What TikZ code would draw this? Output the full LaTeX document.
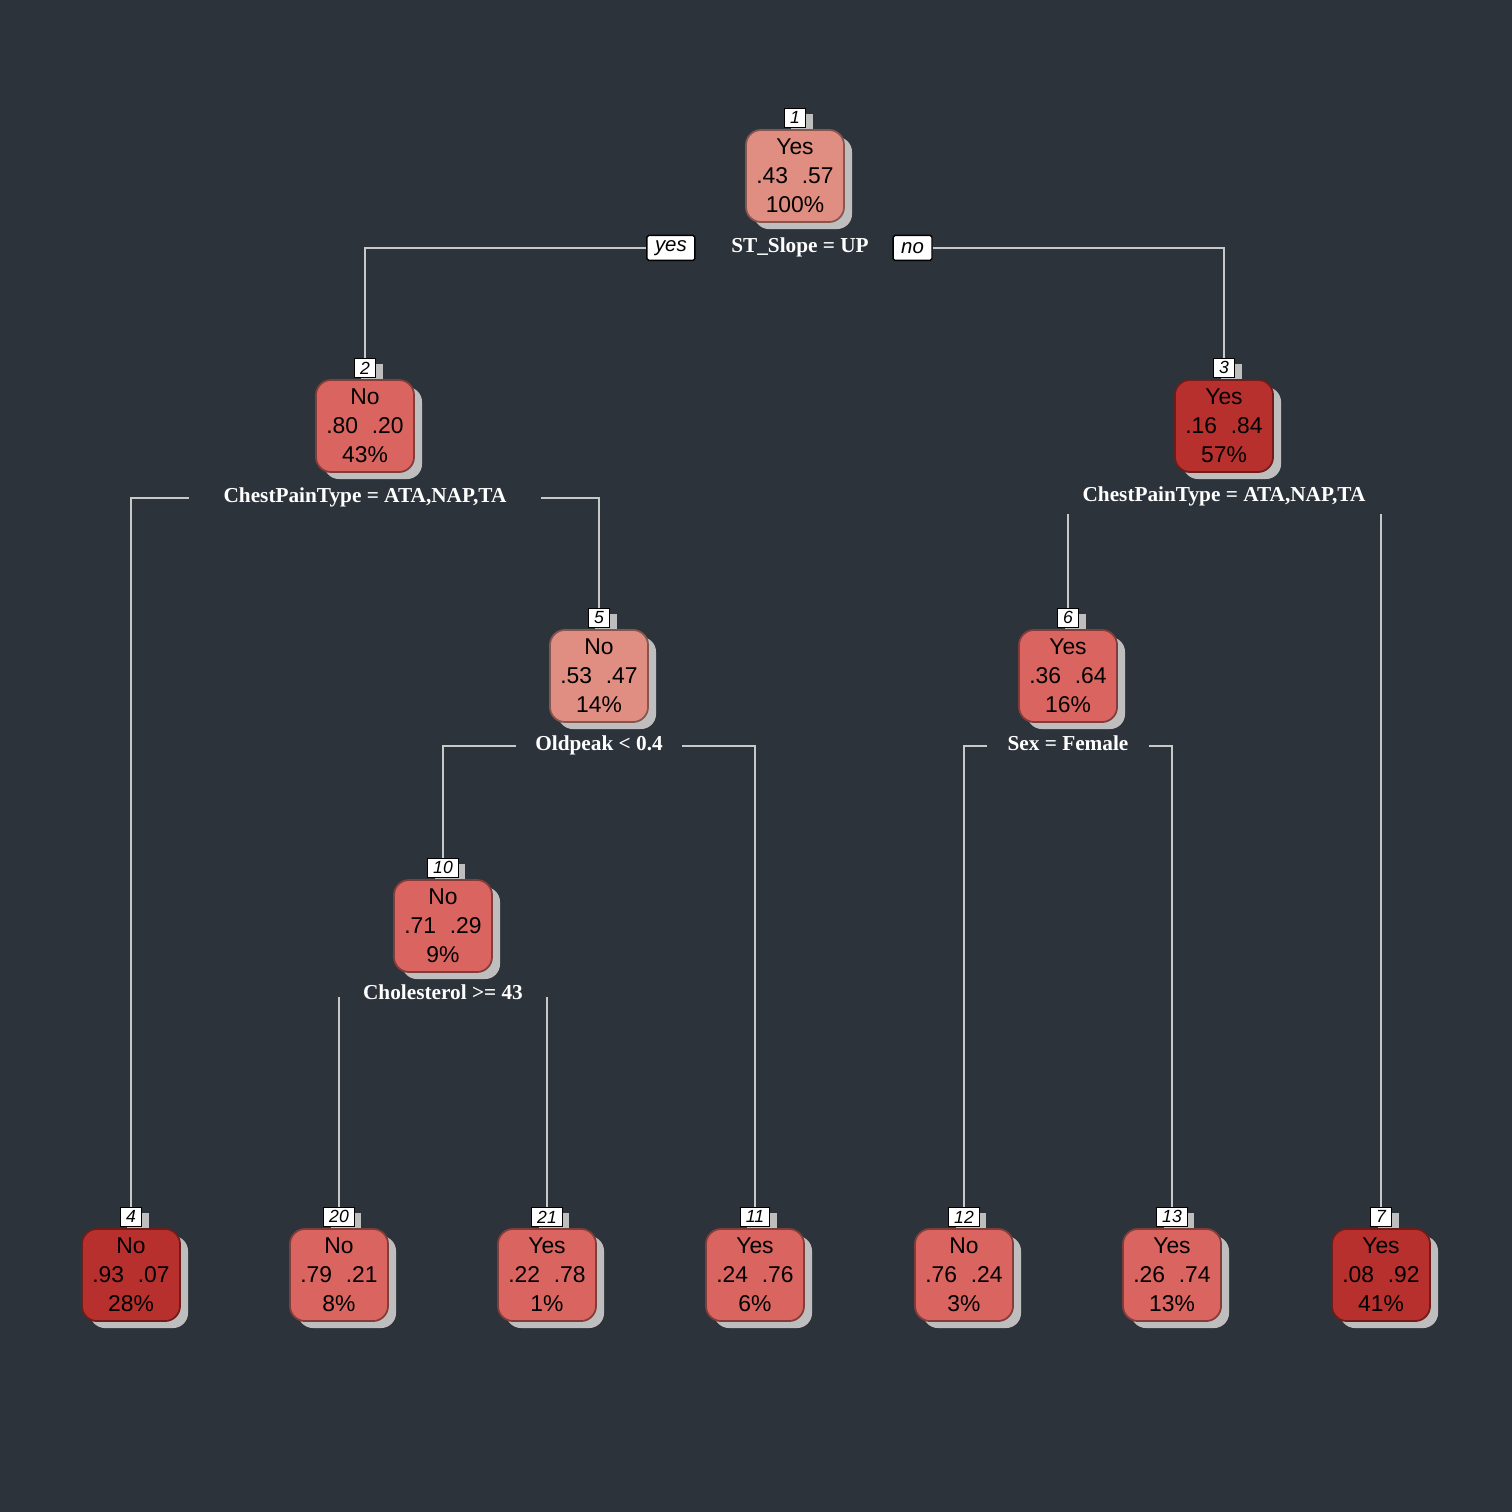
\documentclass[tikz,border=0pt]{standalone}
\usepackage{fontspec}
\setmainfont{Liberation Serif}
\setsansfont{Liberation Sans}
\usetikzlibrary{positioning, shadows, backgrounds}
\definecolor{treeBg}{RGB}{45,51,59}
\definecolor{treeLight}{RGB}{224,142,130}
\definecolor{treeMid}{RGB}{217,100,96}
\definecolor{treeDark}{RGB}{183,48,45}
\definecolor{treeEdge}{RGB}{200,200,200}
\definecolor{treeShadow}{RGB}{190,190,190}

\begin{document}
\begin{tikzpicture}[
    x=0.01cm, y=-0.01cm,
    box/.style={rectangle, rounded corners=0.15cm, fill=#1, draw=#1!60!black, line width=0.5pt, minimum width=0.98cm, minimum height=0.92cm, inner sep=0pt, align=center, text=black, font=\sffamily\fontsize{6.5}{8.25}\selectfont, drop shadow={shadow xshift=0.08cm, shadow yshift=-0.07cm, fill=treeShadow, opacity=1}},
    nlabel/.style={rectangle, draw=black, fill=white, line width=0.4pt, minimum height=0.19cm, inner xsep=1.6pt, inner ysep=0pt, font=\sffamily\itshape\fontsize{5}{5.5}\selectfont, drop shadow={shadow xshift=0.07cm, shadow yshift=-0.06cm, fill=treeShadow, opacity=1}},
    rule/.style={text=white, inner sep=0pt, text height=4pt, text depth=1.3pt, font=\bfseries\fontsize{6.05}{7}\selectfont},
    answer/.style={rectangle, rounded corners=0.5pt, draw=black, fill=white, line width=0.4pt, minimum height=0.25cm, inner xsep=2.3pt, inner ysep=0pt, font=\sffamily\itshape\fontsize{5.8}{6}\selectfont},
    branch/.style={treeEdge, line width=0.6pt},
    dotline/.style={black!80, line width=0.4pt, dotted}
]
    % inner nodes
    \node[box=treeLight] (n1) at (795,176) {Yes\\.43\hspace{0.6em}.57\\100\%};
    \node[box=treeMid] (n2) at (365,426) {No\\.80\hspace{0.6em}.20\\43\%};
    \node[box=treeDark] (n3) at (1224,426) {Yes\\.16\hspace{0.6em}.84\\57\%};
    \node[box=treeLight] (n5) at (599,676) {No\\.53\hspace{0.6em}.47\\14\%};
    \node[box=treeMid] (n6) at (1068,676) {Yes\\.36\hspace{0.6em}.64\\16\%};
    \node[box=treeMid] (n10) at (443,926) {No\\.71\hspace{0.6em}.29\\9\%};

    % leaves
    \node[box=treeDark] (n4) at (131,1275) {No\\.93\hspace{0.6em}.07\\28\%};
    \node[box=treeMid] (n20) at (339,1275) {No\\.79\hspace{0.6em}.21\\8\%};
    \node[box=treeMid] (n21) at (547,1275) {Yes\\.22\hspace{0.6em}.78\\1\%};
    \node[box=treeMid] (n11) at (755,1275) {Yes\\.24\hspace{0.6em}.76\\6\%};
    \node[box=treeMid] (n12) at (964,1275) {No\\.76\hspace{0.6em}.24\\3\%};
    \node[box=treeMid] (n13) at (1172,1275) {Yes\\.26\hspace{0.6em}.74\\13\%};
    \node[box=treeDark] (n7) at (1381,1275) {Yes\\.08\hspace{0.6em}.92\\41\%};

    % node numbers
    \begin{scope}[on background layer]
        \fill[treeBg] (0,0) rectangle (1512,1512);
        \node[nlabel, above=0.01cm of n1] (l1) {1};
        \node[nlabel, above=0.01cm of n2] (l2) {2};
        \node[nlabel, above=0.01cm of n3] (l3) {3};
        \node[nlabel, above=0.01cm of n5] (l5) {5};
        \node[nlabel, above=0.01cm of n6] (l6) {6};
        \node[nlabel, above=0.01cm of n10] (l10) {10};
        \node[nlabel, above=0.01cm of n4] (l4) {4};
        \node[nlabel, above=0.01cm of n20] (l20) {20};
        \node[nlabel, above=0.01cm of n21] (l21) {21};
        \node[nlabel, above=0.01cm of n11] (l11) {11};
        \node[nlabel, above=0.01cm of n12] (l12) {12};
        \node[nlabel, above=0.01cm of n13] (l13) {13};
        \node[nlabel, above=0.01cm of n7] (l7) {7};
    \end{scope}

    % split rules
    \node[rule, below=0.15cm of n1, xshift=0.05cm] (s1) {ST\_Slope = UP};
    \node[rule, below=0.15cm of n2, inner xsep=0.34cm] (s2) {ChestPainType = ATA,NAP,TA};
    \node[rule, below=0.14cm of n3] (s3) {ChestPainType = ATA,NAP,TA};
    \node[rule, below=0.13cm of n5, inner xsep=0.19cm] (s5) {Oldpeak < 0.4};
    \node[rule, below=0.13cm of n6, inner xsep=0.2cm] (s6) {Sex = Female};
    \node[rule, below=0.12cm of n10] (s10) {Cholesterol >= 43};

    \node[answer, left=0.35cm of s1] (yes) {yes};
    \node[answer, right=0.23cm of s1] (no) {no};

    \coordinate (t6) at (1068,514);
    \coordinate (t7) at (1381,514);
    \coordinate (t20) at (339,997);
    \coordinate (t21) at (547,997);

    % branches
    \draw[dotline, shorten >=0.23cm] (yes.east) -- (s1.west);
    \draw[dotline, shorten <=0.17cm] (s1.east) -- (no.west);
    \draw[branch] (yes.west) -| (l2.north);
    \draw[branch] (no.east) -| (l3.north);
    \draw[branch] (s2.west) -| (l4.north);
    \draw[branch] (s2.east) -| (l5.north);
    \draw[branch] (t6) -- (l6.north);
    \draw[branch] (t7) -- (l7.north);
    \draw[branch] (s5.west) -| (l10.north);
    \draw[branch] (s5.east) -| (l11.north);
    \draw[branch] (s6.west) -| (l12.north);
    \draw[branch] (s6.east) -| (l13.north);
    \draw[branch] (t20) -- (l20.north);
    \draw[branch] (t21) -- (l21.north);
\end{tikzpicture}
\end{document}
